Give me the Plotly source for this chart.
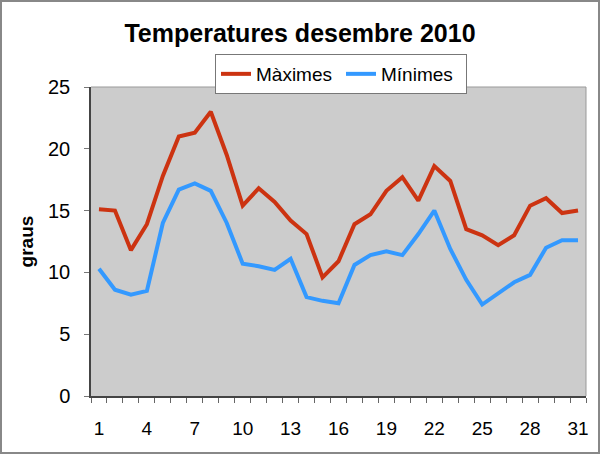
import plotly.graph_objects as go

# December 2010 daily temperatures
days = list(range(1, 32))
maximes = [15.1, 15.0, 11.8, 13.9, 17.8, 21.0, 21.3, 23.0, 19.5, 15.4,
           16.8, 15.7, 14.2, 13.1, 9.6, 10.9, 13.9, 14.7, 16.6, 17.7,
           15.8, 18.6, 17.4, 13.5, 13.0, 12.2, 13.0, 15.4, 16.0, 14.8, 15.0]
minimes = [10.3, 8.6, 8.2, 8.5, 14.0, 16.7, 17.2, 16.6, 14.0, 10.7,
           10.5, 10.2, 11.1, 8.0, 7.7, 7.5, 10.6, 11.4, 11.7, 11.4,
           13.1, 15.0, 11.9, 9.4, 7.4, 8.3, 9.2, 9.8, 12.0, 12.6, 12.6]
x_labels = list(range(1, 32, 3))

W, H = 600, 454
L, R, T, B = 91, 14, 87, 58
pw, ph = W - L - R, H - T - B

fig = go.Figure()

fig.add_trace(go.Scatter(
    x=days, y=maximes, mode='lines', name='Màximes',
    line=dict(color='#CC3311', width=4)
))
fig.add_trace(go.Scatter(
    x=days, y=minimes, mode='lines', name='Mínimes',
    line=dict(color='#3399FF', width=4)
))

font = 'Liberation Sans, Arial, sans-serif'

fig.update_layout(
    width=W, height=H,
    margin=dict(l=L, r=R, t=T, b=B),
    paper_bgcolor='white',
    plot_bgcolor='#CCCCCC',
    font=dict(family=font, color='black'),
    title=dict(
        text='<b>Temperatures desembre 2010</b>',
        x=0.5, xref='container', xanchor='center',
        y=1 - 33 / H, yref='container', yanchor='middle',
        font=dict(size=25, family=font)
    ),
    legend=dict(
        orientation='h',
        x=(341 - L) / pw, xanchor='center',
        y=(H - B - 54) / ph, yanchor='top',
        bgcolor='white', bordercolor='#777777', borderwidth=1,
        font=dict(size=19), entrywidth=80, entrywidthmode='pixels',
        tracegroupgap=0
    ),
    xaxis=dict(
        range=[0.5, 31.5],
        tickvals=x_labels,
        ticks='', showgrid=False, zeroline=False,
        showline=True, linecolor='#444444', linewidth=1.5,
        tickfont=dict(size=19),
        ticklabelstandoff=14,
        minor=dict(tick0=0.5, dtick=1, ticks='outside', ticklen=5,
                   tickcolor='#666666', showgrid=False),
    ),
    yaxis=dict(
        range=[0, 25], dtick=5,
        ticks='outside', ticklen=5, tickcolor='#777777',
        showgrid=False, zeroline=False,
        showline=True, linecolor='#444444', linewidth=1.5,
        tickfont=dict(size=20),
        ticklabelstandoff=10,
        title=dict(text='<b>graus</b>', font=dict(size=19), standoff=9),
    ),
    showlegend=True,
)

# light border on top and right of the plot area
fig.add_shape(type='line', xref='paper', yref='paper', x0=0, x1=1, y0=1, y1=1,
              line=dict(color='#999999', width=1), layer='below')
fig.add_shape(type='line', xref='paper', yref='paper', x0=1, x1=1, y0=0, y1=1,
              line=dict(color='#999999', width=1), layer='below')

# frame around the whole picture
fig.add_shape(type='rect', xref='paper', yref='paper',
              x0=-(L - 1) / pw, x1=(W - L - 1) / pw,
              y0=-(B - 1) / ph, y1=(H - B - 1) / ph,
              line=dict(color='#888888', width=2))

fig.write_html('out.html', config={'displayModeBar': False},
               post_script="document.body.style.margin='0';")
